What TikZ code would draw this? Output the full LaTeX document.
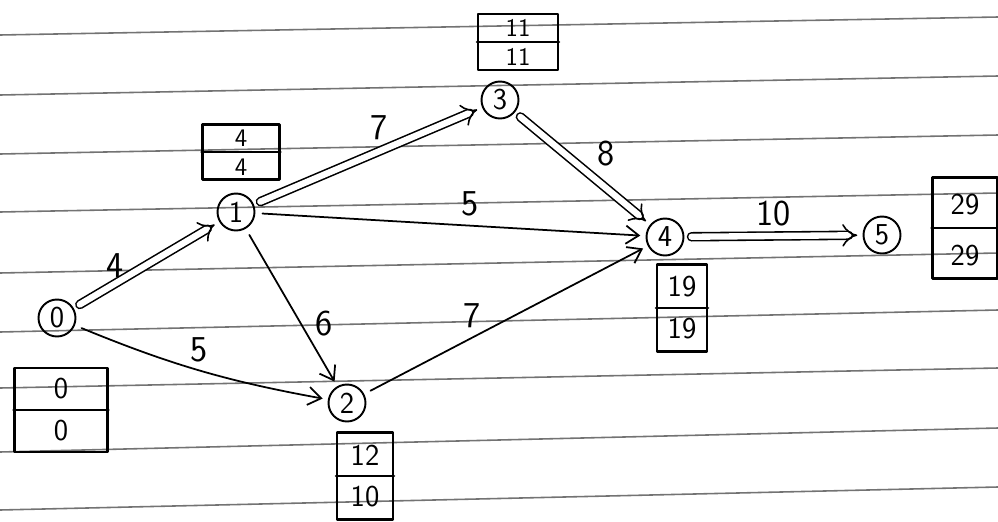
\documentclass[tikz,border=0pt]{standalone}
\usetikzlibrary{arrows.meta}
\tikzset{event/.style={circle,draw=black,line width=1.1pt,minimum size=0.74cm,inner sep=0pt,font=\sffamily\LARGE},
 tbox/.style={draw=black,line width=1.3pt,inner sep=0pt},
 num/.style={font=\sffamily\LARGE,inner sep=0pt},
 smallnum/.style={font=\sffamily\Large,inner sep=0pt},
 wt/.style={font=\sffamily\huge,inner sep=2pt},
 job/.style={draw=black,line width=1pt,-{Straight Barb[angle=70:9pt]},shorten >=3pt,shorten <=4pt},
 crit/.style={draw=black,line width=.9pt,double,double distance=3.6pt,-{Implies},shorten >=3pt,shorten <=4pt},
 ruled/.style={draw=black!55,line width=.9pt},
 every picture/.style={line join=round,line cap=round}}

\begin{document}
\begin{tikzpicture}[x=0.02cm,y=-0.02cm]
\useasboundingbox (0,0) rectangle (998,521);
\fill[white] (0,0) rectangle (998,521);
\foreach \ly/\ry in {35/17,95/76,154/135,212/193,273/253,332/310,388/368,452/428,510/487}
  \draw[ruled] (0,\ly) -- (998,\ry);
% events
\node[event] (n0) at (57,318) {0};
\node[event] (n1) at (236,212) {1};
\node[event] (n2) at (347,403) {2};
\node[event] (n3) at (500,100) {3};
\node[event] (n4) at (665,237) {4};
\node[event] (n5) at (882,235) {5};
% time boxes
\node[tbox,minimum width=1.86cm,minimum height=1.68cm] (b0) at (61,410) {};
\draw[tbox] (b0.west) -- (b0.east);
\node[num] (b0t) at (61,389) {0};
\node[num] (b0b) at (61,431) {0};
\node[tbox,minimum width=1.54cm,minimum height=1.1cm] (b1) at (241,152) {};
\draw[tbox] (b1.west) -- (b1.east);
\node[smallnum] (b1t) at (241,138) {4};
\node[smallnum] (b1b) at (241,167) {4};
\node[tbox,minimum width=1.12cm,minimum height=1.74cm] (b2) at (365,476) {};
\draw[tbox] (b2.west) -- (b2.east);
\node[num] (b2t) at (365,455) {12};
\node[num] (b2b) at (365,497) {10};
\node[tbox,minimum width=1.6cm,minimum height=1.12cm] (b3) at (518,42) {};
\draw[tbox] (b3.west) -- (b3.east);
\node[smallnum] (b3t) at (518,28) {11};
\node[smallnum] (b3b) at (518,57) {11};
\node[tbox,minimum width=1cm,minimum height=1.74cm] (b4) at (682,308) {};
\draw[tbox] (b4.west) -- (b4.east);
\node[num] (b4t) at (682,287) {19};
\node[num] (b4b) at (682,329) {19};
\node[tbox,minimum width=1.3cm,minimum height=2.02cm] (b5) at (965,228) {};
\draw[tbox] (b5.west) -- (b5.east);
\node[num] (b5t) at (965,205) {29};
\node[num] (b5b) at (965,256) {29};
% activities
\draw[crit] (n0) -- node[wt,pos=.35,above left=-2pt] {4} (n1);
\draw[crit] (n1) -- node[wt,pos=.55,above=4pt] {7} (n3);
\draw[crit] (n3) -- node[wt,pos=.55,above right=2pt] {8} (n4);
\draw[crit] (n4) -- node[wt,above=3pt] {10} (n5);
\draw[job] (n1) -- node[wt,pos=.55,above=3pt] {5} (n4);
\draw[job] (n1) -- node[wt,pos=.6,right=6pt] {6} (n2);
\draw[job] (n0) to[bend right=6] node[wt,pos=.5,above=2pt] {5} (n2);
\draw[job] (n2) -- node[wt,pos=.38,above=3pt] {7} (n4);
\end{tikzpicture}
\end{document}
